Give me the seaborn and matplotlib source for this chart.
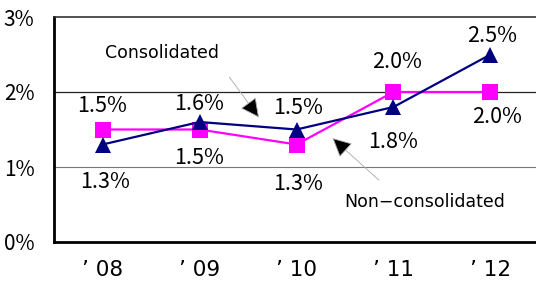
import pandas as pd
import seaborn as sns
import matplotlib.pyplot as plt
import matplotlib.ticker as mticker

# Data.
years = ["\u201908", "\u201909", "\u201910", "\u201911", "\u201912"]
consolidated = [1.3, 1.6, 1.5, 1.8, 2.5]
non_consolidated = [1.5, 1.5, 1.3, 2.0, 2.0]
y_ticks = [0, 1, 2, 3]

df = pd.DataFrame({
    "year": years * 2,
    "rate": consolidated + non_consolidated,
    "series": ["Consolidated"] * 5 + ["Non-consolidated"] * 5,
})

sns.set_style("white")
plt.rcParams["font.family"] = ["Noto Sans CJK JP", "DejaVu Sans"]
plt.rcParams["text.color"] = "black"
plt.rcParams["xtick.color"] = "black"
plt.rcParams["ytick.color"] = "black"

fig = plt.figure(figsize=(5.36, 2.84), dpi=100)
ax = fig.add_axes([54 / 536, 42 / 284, 485 / 536, 225 / 284])

palette = {"Consolidated": "#000080", "Non-consolidated": "#ff00ff"}
markers = {"Consolidated": "^", "Non-consolidated": "s"}
for name in ["Non-consolidated", "Consolidated"]:
    sub = df[df["series"] == name]
    sns.lineplot(data=sub, x="year", y="rate", ax=ax, color=palette[name],
                 marker=markers[name], markersize=12, linewidth=1.6,
                 markeredgewidth=0, sort=False, legend=False)

# Value labels (pixel offsets above / below each point).
above = [("n", 0, -23), ("c", 0, -18), ("c", 2, -21), ("n", 4, -30), ("c", 2, -18)]
below = [("c", 3, 38), ("n", 0, 29), ("n", 2, 40), ("c", 0, 35), ("n", 7, 25)]
for i in range(5):
    for kind, dx, dy in (above[i], below[i]):
        v = consolidated[i] if kind == "c" else non_consolidated[i]
        ax.annotate(f"{v:.1f}%", (i, v), xytext=(dx, -dy), textcoords="offset pixels",
                    ha="center", va="center", fontsize=15.5, color="black")

# Series call-outs.
arrow = dict(arrowstyle="-|>,head_length=0.5,head_width=0.25", fc="black",
             ec="#aaaaaa", lw=0.6, mutation_scale=24)
ax.annotate("", xy=(1.63, 1.63), xytext=(1.29, 2.23), arrowprops=arrow)
ax.text(0.61, 2.52, "Consolidated", ha="center", va="center", fontsize=12.5,
        family="DejaVu Sans", color="black")
ax.annotate("", xy=(2.35, 1.41), xytext=(2.87, 0.8), arrowprops=arrow)
ax.text(3.32, 0.53, "Non\u2212consolidated", ha="center", va="center", fontsize=12.5,
        family="DejaVu Sans", color="black")

ax.set_xlim(-0.5, 4.5)
ax.set_ylim(0, 3)
ax.set_xlabel("")
ax.set_ylabel("")

ax.set_yticks(y_ticks)
ax.yaxis.set_major_formatter(mticker.FuncFormatter(lambda v, p: f"{v:.0f}%"))
ax.tick_params(axis="y", direction="in", length=6.5, width=1.5, pad=14, labelsize=15,
               labelcolor="black")

ax.set_xticks(range(5))
ax.set_xticklabels([y[0] + " " + y[1:] for y in years], family="DejaVu Sans")
ax.tick_params(axis="x", which="major", length=0, pad=13, labelsize=15.5, labelcolor="black")
ax.set_xticks([0.5, 1.5, 2.5, 3.5], minor=True)
ax.tick_params(axis="x", which="minor", direction="in", length=6.5, width=1.5)

ax.axhline(1, color="#777777", lw=0.8, zorder=0)
ax.axhline(2, color="#222222", lw=0.9, zorder=0)

for side in ["left", "bottom"]:
    ax.spines[side].set_color("black")
    ax.spines[side].set_linewidth(2)
ax.spines["top"].set_color("#333333")
ax.spines["top"].set_linewidth(1.2)
ax.spines["right"].set_visible(False)

fig.savefig("out.png", dpi=100)
